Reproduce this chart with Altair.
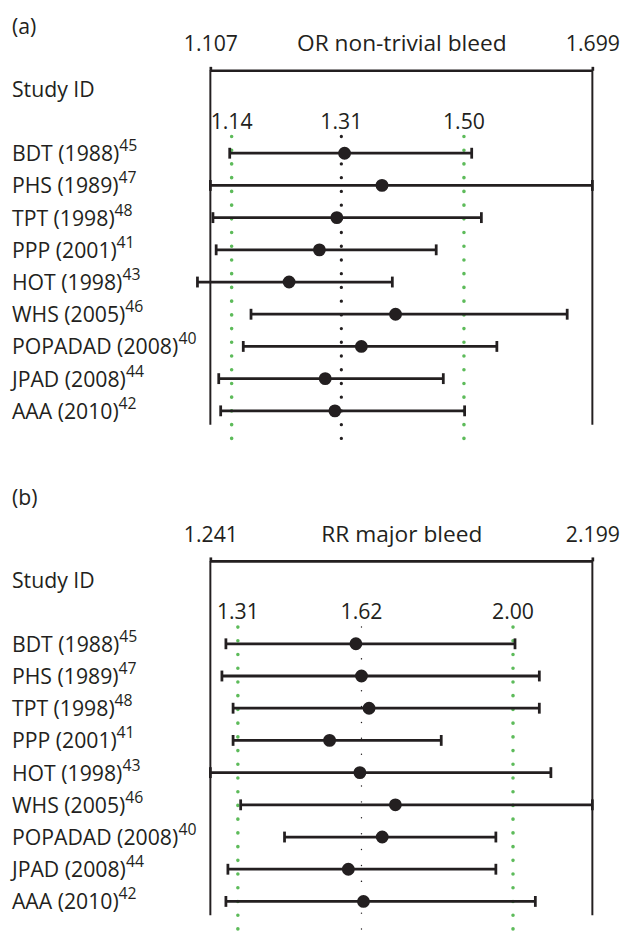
import altair as alt
import pandas as pd

# ---------------- data ----------------
studies = ["BDT", "PHS", "TPT", "PPP", "HOT", "WHS", "POPADAD", "JPAD", "AAA"]
years = ["1988", "1989", "1998", "2001", "1998", "2005", "2008", "2008", "2010"]
ref_nums = ["45", "47", "48", "41", "43", "46", "40", "44", "42"]

a_domain = [1.107, 1.699]
a_point = [1.315, 1.373, 1.303, 1.276, 1.229, 1.394, 1.341, 1.285, 1.300]
a_lower = [1.137, 1.107, 1.111, 1.116, 1.087, 1.170, 1.158, 1.120, 1.123]
a_upper = [1.512, 1.699, 1.527, 1.457, 1.389, 1.660, 1.551, 1.468, 1.501]
a_lines = [1.14, 1.31, 1.50]
a_line_labels = ["1.14", "1.31", "1.50"]

b_domain = [1.241, 2.199]
b_point = [1.606, 1.620, 1.639, 1.540, 1.616, 1.705, 1.672, 1.587, 1.625]
b_lower = [1.280, 1.270, 1.298, 1.298, 1.241, 1.317, 1.427, 1.285, 1.280]
b_upper = [2.005, 2.066, 2.066, 1.820, 2.095, 2.199, 1.957, 1.957, 2.056]
b_lines = [1.31, 1.62, 2.00]
b_line_labels = ["1.31", "1.62", "2.00"]

line_kinds = ["ci", "centre", "ci"]

# ---------------- style ----------------
INK = "#231f20"
GREEN = "#5dbb5a"
FONT = "Open Sans"
FS = 21.5
TITLE_FS = 23
SUP_FS = 16
W = 387
H = 377
ROW0 = 84.0
ROW_STEP = 32.625
LABEL_X = -201

# approximate Open Sans advance widths (em) to place the superscripts
ADV = {" ": 0.26, "(": 0.296, ")": 0.296, "A": 0.633, "B": 0.648, "D": 0.735,
       "H": 0.748, "J": 0.291, "O": 0.787, "P": 0.603, "S": 0.549, "T": 0.556,
       "W": 0.924}
for d in "0123456789":
    ADV[d] = 0.572

labels = [f"{s} ({y})" for s, y in zip(studies, years)]
sup_x = [LABEL_X + sum(ADV.get(c, 0.6) for c in lab) * FS - 0.5 for lab in labels]


def panel(tag, tag_y, title, domain, lower, point, upper, lines, line_labels,
          centre_width, centre_dash):
    df = pd.DataFrame({"row": list(range(len(studies))), "label": labels,
                       "sup": ref_nums, "supx": sup_x, "lower": lower,
                       "point": point, "upper": upper})
    lines_df = pd.DataFrame({"v": lines, "lab": line_labels, "kind": line_kinds})
    frame_df = pd.DataFrame({"v": domain})

    xs = alt.Scale(domain=domain, nice=False, zero=False)
    ys = alt.Scale(domain=[-ROW0 / ROW_STEP, (H - ROW0) / ROW_STEP],
                   nice=False, zero=False, reverse=True)
    axis = alt.Axis(orient="top", values=domain, format=".3f", labelFlush=False,
                    grid=False, tickSize=4, tickWidth=2.7, tickColor=INK,
                    domainWidth=2.7, domainColor=INK, labelFontSize=FS,
                    labelColor=INK, labelBaseline="alphabetic", labelPadding=16,
                    labelFont=FONT, title=title, titleFont=FONT,
                    titleFontSize=TITLE_FS, titleFontWeight="normal", titleColor=INK,
                    titleBaseline="alphabetic", titleY=-20, titleX=W / 2,
                    titleAlign="center")
    Y = alt.Y("row:Q", scale=ys, axis=None)

    def X(f):
        return alt.X(f, scale=xs, axis=None)

    frame = alt.Chart(frame_df).mark_rule(color=INK, strokeWidth=2).encode(
        x=alt.X("v:Q", scale=xs, axis=axis), y=alt.value(0), y2=alt.value(359))
    ci = alt.Chart(lines_df).transform_filter("datum.kind == 'ci'").mark_rule(
        color=GREEN, strokeWidth=3.6, strokeDash=[0.1, 13.8], strokeCap="round"
    ).encode(x=X("v:Q"), y=alt.value(67), y2=alt.value(H))
    centre = alt.Chart(lines_df).transform_filter("datum.kind == 'centre'").mark_rule(
        color=INK, strokeWidth=centre_width, strokeDash=centre_dash, strokeCap="round"
    ).encode(x=X("v:Q"), y=alt.value(67), y2=alt.value(H))
    bars = alt.Chart(df).mark_rule(color=INK, strokeWidth=2.8).encode(
        x=X("lower:Q"), x2="upper:Q", y=Y)
    caps = alt.Chart(df).transform_fold(["lower", "upper"], as_=["end", "bound"]).mark_tick(
        orient="vertical", color=INK, size=11, thickness=2.8, opacity=1
    ).encode(x=X("bound:Q"), y=Y)
    pts = alt.Chart(df).mark_circle(size=170, opacity=1, color=INK).encode(
        x=X("point:Q"), y=Y)
    line_text = alt.Chart(lines_df).mark_text(
        fontSize=FS, color=INK, baseline="alphabetic", align="center"
    ).encode(x=X("v:Q"), y=alt.value(59), text="lab:N")
    names = alt.Chart(df).mark_text(
        align="left", baseline="alphabetic", dy=8, fontSize=FS, color=INK
    ).encode(x=alt.value(LABEL_X), y=Y, text="label:N")
    sups = alt.Chart(df).mark_text(
        align="left", baseline="alphabetic", dy=-2, fontSize=SUP_FS, color=INK
    ).encode(x=alt.X("supx:Q", scale=None, axis=None), y=Y, text="sup:N")
    hdr = alt.Chart(pd.DataFrame({"t": ["Study ID"]})).mark_text(
        align="left", baseline="alphabetic", fontSize=FS, color=INK
    ).encode(x=alt.value(LABEL_X), y=alt.value(27), text="t:N")
    tag_txt = alt.Chart(pd.DataFrame({"t": [tag]})).mark_text(
        align="left", baseline="alphabetic", fontSize=FS, color=INK
    ).encode(x=alt.value(LABEL_X), y=alt.value(tag_y), text="t:N")

    return alt.layer(frame, ci, centre, bars, caps, pts, line_text, names, sups,
                     hdr, tag_txt).resolve_scale(x="independent").properties(
        width=W, height=H)


pa = panel("(a)", -37, "OR non-trivial bleed", a_domain, a_lower, a_point, a_upper,
           a_lines, a_line_labels, 3.3, [0.1, 13.8])
pb = panel("(b)", -57, "RR major bleed", b_domain, b_lower, b_point, b_upper,
           b_lines, b_line_labels, 1.4, [0.1, 16])

chart = alt.vconcat(pa, pb, spacing=44).properties(
    padding={"left": 4, "top": 3, "right": 0, "bottom": 2}
).configure(font=FONT).configure_view(stroke=None)

chart.save("out.html", embed_options={"renderer": "svg", "actions": False})
